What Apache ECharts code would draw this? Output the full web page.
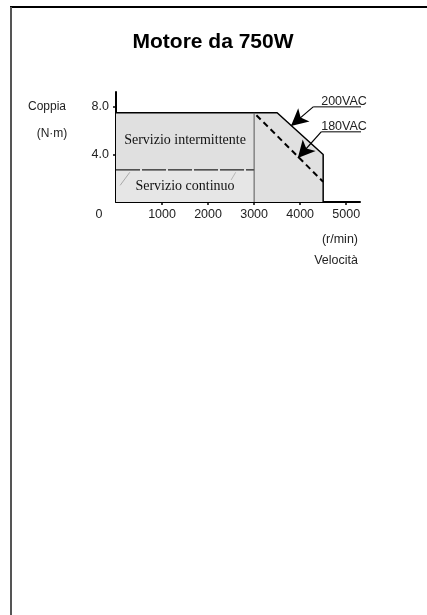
<!DOCTYPE html>
<html>
<head>
<meta charset="utf-8">
<script src="https://cdn.jsdelivr.net/npm/echarts@6/dist/echarts.min.js"></script>
<style>
  html, body { margin: 0; padding: 0; background: #fff; }
  #chart { width: 427px; height: 615px; }
</style>
</head>
<body>
<div id="chart"></div>
<script>
// torque-speed curve data (rpm, N·m)
const intermittentCurve = [[0, 7.5], [3500, 7.5], [4500, 4.0], [4500, 0]]
const continuousTop = [[0, 2.7], [3000, 2.7]]
const dividerLine = [[3000, 0], [3000, 7.5]]
const curve180 = [[3050, 7.3], [4500, 1.7]]
const scribbles = [[[90, 1.4], [300, 2.5]], [[2500, 1.85], [2600, 2.5]]]

const xLabels = [0, 1000, 2000, 3000, 4000, 5000]
const xTicks = [1000, 2000, 3000, 4000, 5000]
const yTicks = [4, 8]

// annotation arrows: [tail, head]
const arrow200 = [[4283, 8.0], [3800, 6.4]]
const arrow180 = [[4457, 5.9], [3950, 3.7]]
const underline200 = [[4283, 8.0], [5650, 8.0]]
const underline180 = [[4457, 5.9], [5650, 5.9]]

const chart = echarts.init(document.getElementById('chart'))

const sans = 'Liberation Sans, Arial, sans-serif'
const serif = 'Liberation Serif, Times New Roman, serif'

function plain(data, color, width, type) {
  return {
    type: 'line',
    data: data,
    symbol: 'none',
    silent: true,
    clip: false,
    lineStyle: { color: color, width: width, type: type || 'solid' },
    z: 5
  }
}

const option = {
  animation: false,
  grid: { left: 116, top: 92, width: 244, height: 110 },
  xAxis: {
    type: 'value',
    min: 0,
    max: 5300,
    splitLine: { show: false },
    axisLine: { lineStyle: { color: '#000', width: 2 } },
    axisTick: { customValues: xTicks, length: 3, lineStyle: { color: '#000', width: 1.5 } },
    axisLabel: {
      customValues: xLabels,
      margin: 6,
      color: '#222',
      fontFamily: sans,
      fontSize: 12.5,
      formatter: v => v === 0 ? '{z|0}' : String(v),
      rich: { z: { padding: [0, 34, 0, 0], fontFamily: sans, fontSize: 12.5, color: '#222' } }
    }
  },
  yAxis: {
    type: 'value',
    min: 0,
    max: 9.25,
    splitLine: { show: false },
    axisLine: { lineStyle: { color: '#000', width: 2 } },
    axisTick: { customValues: yTicks, length: 3, lineStyle: { color: '#000', width: 1.5 } },
    axisLabel: {
      customValues: yTicks,
      margin: 7,
      color: '#222',
      fontFamily: sans,
      fontSize: 12.5,
      formatter: v => v.toFixed(1)
    }
  },
  series: [
    {
      type: 'line',
      data: intermittentCurve,
      symbol: 'none',
      silent: true,
      lineStyle: { color: '#000', width: 1.5 },
      areaStyle: { color: '#e0e0e0', opacity: 1, origin: 'start' },
      z: 2
    },
    {
      type: 'line',
      data: continuousTop,
      symbol: 'none',
      silent: true,
      lineStyle: { color: '#222', width: 1.2, type: [24, 2] },
      areaStyle: { color: '#e6e6e6', opacity: 1, origin: 'start' },
      z: 3
    },
    plain(dividerLine, '#555', 1),
    plain(curve180, '#000', 2, [6, 4]),
    plain(scribbles[0], '#999', 0.8),
    plain(scribbles[1], '#aaa', 0.8),
    plain(underline200, '#000', 1),
    plain(underline180, '#000', 1),
    {
      type: 'line',
      data: [],
      silent: true,
      clip: false,
      markLine: {
        silent: true,
        symbol: ['none', 'arrow'],
        symbolSize: [13, 17],
        label: { show: false },
        lineStyle: { color: '#000', width: 1.2, type: 'solid' },
        data: [
          [{ coord: arrow200[0] }, { coord: arrow200[1] }],
          [{ coord: arrow180[0] }, { coord: arrow180[1] }]
        ]
      },
      z: 6
    }
  ],
  graphic: [
    { type: 'line', shape: { x1: 10, y1: 7, x2: 427, y2: 7 }, style: { stroke: '#000', lineWidth: 2 } },
    { type: 'line', shape: { x1: 11, y1: 7, x2: 11, y2: 615 }, style: { stroke: '#555', lineWidth: 2 } },
    { type: 'text', x: 213, y: 42, style: { text: 'Motore da 750W', font: 'bold 21px ' + sans, fill: '#000', align: 'center', verticalAlign: 'middle' } },
    { type: 'text', x: 47, y: 107, style: { text: 'Coppia', font: '12px ' + sans, fill: '#222', align: 'center', verticalAlign: 'middle' } },
    { type: 'text', x: 52, y: 134, style: { text: '(N·m)', font: '12px ' + sans, fill: '#222', align: 'center', verticalAlign: 'middle' } },
    { type: 'text', x: 358, y: 240, style: { text: '(r/min)', font: '12.5px ' + sans, fill: '#222', align: 'right', verticalAlign: 'middle' } },
    { type: 'text', x: 358, y: 261, style: { text: 'Velocità', font: '12.5px ' + sans, fill: '#222', align: 'right', verticalAlign: 'middle' } },
    { type: 'text', x: 344, y: 102, style: { text: '200VAC', font: '12.5px ' + sans, fill: '#222', align: 'center', verticalAlign: 'middle' } },
    { type: 'text', x: 344, y: 127, style: { text: '180VAC', font: '12.5px ' + sans, fill: '#222', align: 'center', verticalAlign: 'middle' } },
    { type: 'text', x: 185, y: 140, z: 10, style: { text: 'Servizio intermittente', font: '14px ' + serif, fill: '#111', align: 'center', verticalAlign: 'middle' } },
    { type: 'text', x: 185, y: 186, z: 10, style: { text: 'Servizio continuo', font: '14px ' + serif, fill: '#111', align: 'center', verticalAlign: 'middle' } }
  ]
}

chart.setOption(option)
</script>
</body>
</html>
